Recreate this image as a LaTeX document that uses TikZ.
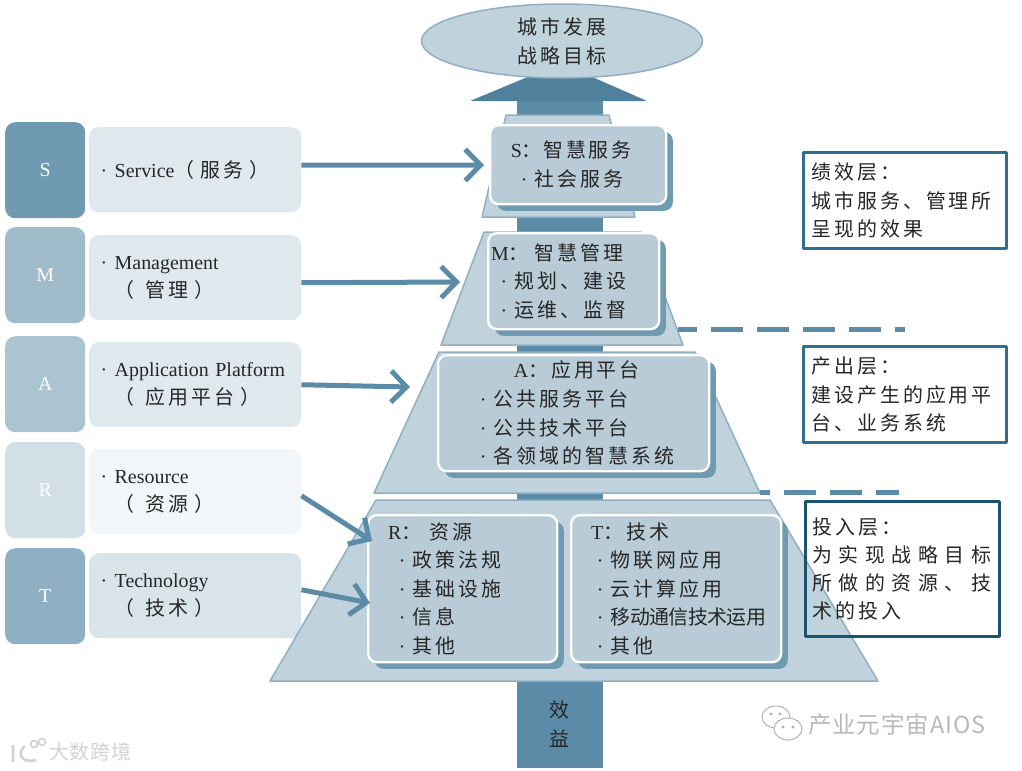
\documentclass[tikz,border=0pt]{standalone}
\usepackage{fontspec}
\setmainfont[LetterSpace=15]{Noto Sans CJK SC}
\newfontfamily\widefont[LetterSpace=33]{Noto Sans CJK SC}
\newfontfamily\markfont[LetterSpace=4]{Noto Sans CJK SC}
\newfontfamily\tightfont[LetterSpace=-3]{Noto Sans CJK SC}
\newfontfamily\latfont{Liberation Serif}
\usepackage{xcolor}
\usetikzlibrary{shapes,arrows.meta,positioning,calc,shadows,shapes.geometric}

\definecolor{columnblue}{HTML}{5B8BA6}
\definecolor{headblue}{HTML}{4F809C}
\definecolor{layerblue}{HTML}{C0D2DC}
\definecolor{edgeblue}{HTML}{8FB0C2}
\definecolor{panelblue}{HTML}{B8CBD6}
\definecolor{shadeblue}{HTML}{6F9AB2}
\definecolor{frameblue}{HTML}{2F6F8F}
\definecolor{framedark}{HTML}{1B5470}
\definecolor{textdark}{HTML}{262626}

\newcommand{\lat}[1]{{\latfont\fontsize{17}{24}\selectfont #1}}
\newcommand{\itm}{\makebox[4.2mm][l]{\lat{·}}}

\tikzset{
    layer/.style={draw=edgeblue, fill=layerblue, line width=.45mm, line join=round},
    panel/.style={anchor=north west, rounded corners=2.6mm, draw=white, line width=.7mm, fill=panelblue,
        general shadow={fill=shadeblue, shadow xshift=2mm, shadow yshift=-2mm},
        align=left, inner ysep=0pt, text=textdark, font=\fontsize{17}{24.4}\selectfont},
    tag/.style={anchor=north west, rounded corners=3mm, fill=#1, text=white, minimum width=24mm, minimum height=28.8mm, inner sep=0pt},
    labelbox/.style={anchor=north west, rounded corners=3mm, fill=#1, minimum height=25.5mm, text width=56.7mm, inner xsep=3.45mm, inner ysep=0pt,
        align=left, text=textdark, font=\fontsize{17}{24}\selectfont,
        path picture={\fill[#1] (path picture bounding box.north west) rectangle ([xshift=5mm]path picture bounding box.south west);}},
    note/.style={anchor=north west, draw=#1, line width=.9mm, line join=round, minimum width=60.9mm, text width=56.1mm, inner xsep=2.1mm, inner ysep=0pt,
        align=left, text=textdark, font=\fontsize{17}{24.2}\selectfont},
    flow/.style={line width=1.5mm, draw=columnblue, -{Straight Barb[length=4.6mm, width=9.4mm, line width=1.5mm]}},
    divider/.style={line width=1.5mm, draw=columnblue, dash pattern=on 9.6mm off 4.2mm},
}

\begin{document}
\begin{tikzpicture}[x=0.3mm, y=-0.3mm]
    \useasboundingbox (0,0) rectangle (1022,771);

    % Left column
    \node[tag=shadeblue] (stag) at (5,122) {\lat{S}};
    \node[tag=edgeblue!85] (mtag) at (5,227) {\lat{M}};
    \node[tag=edgeblue!75] (atag) at (5,336) {\lat{A}};
    \node[tag=layerblue!70] (rtag) at (5,442) {\lat{R}};
    \node[tag=edgeblue] (ttag) at (5,548) {\lat{T}};

    \node[labelbox={layerblue!50}] (slabel) at (89,127) {\itm\lat{Service}（\hspace{1.8mm}服务\hspace{1.8mm}）};
    \node[labelbox={layerblue!50}] (mlabel) at (89,235) {\itm\lat{Management}\\\hspace*{4.2mm}（\hspace{3.4mm}管理\hspace{1.8mm}）};
    \node[labelbox={layerblue!50}] (alabel) at (89,342) {\itm\lat{Application Platform}\\\hspace*{4.2mm}（\hspace{3.4mm}应用平台\hspace{1.8mm}）};
    \node[labelbox={layerblue!20}] (rlabel) at (89,449) {\itm\lat{Resource}\\\hspace*{4.2mm}（\hspace{3.4mm}资源\hspace{1.8mm}）};
    \node[labelbox={layerblue!60}] (tlabel) at (89,553) {\itm\lat{Technology}\\\hspace*{4.2mm}（\hspace{3.4mm}技术\hspace{1.8mm}）};

    % Benefit column and arrow
    \node[anchor=north, fill=columnblue, minimum width=25.8mm, minimum height=26.4mm, inner sep=0pt, align=center,
        text=textdark, font=\fontsize{17}{24.6}\selectfont] (gain) at (559.5,680) {效\\益};
    \fill[columnblue] (516.5,100) rectangle (602.5,690);
    \fill[headblue, rounded corners=.6mm] (530,76) -- (590,76) -- (647,101) -- (470,101) -- cycle;

    % Pyramid layers
    \draw[layer] (506,115) -- (609,115) -- (635,217) -- (482,217) -- cycle;
    \draw[layer] (484,232) -- (641,232) -- (683,345) -- (441,345) -- cycle;
    \draw[layer] (439,352) -- (695,352) -- (760,493) -- (374,493) -- cycle;
    \draw[layer] (376,500) -- (770,500) -- (878,681) -- (270,681) -- cycle;

    \node[draw=edgeblue, fill=layerblue, line width=.45mm, ellipse, minimum width=84.3mm, minimum height=22.2mm, inner sep=0pt, align=center,
        text=textdark, font=\fontsize{17}{24.6}\selectfont] (goal) at (562,41) {城市发展\\战略目标};

    % Panels
    \node[panel, minimum width=52.8mm, text width=46.8mm, inner xsep=3mm, minimum height=23.7mm] (sbox) at (489,124)
        {\hspace*{3.2mm}\lat{S}：\hspace{.4mm}智慧服务\\\hspace*{6.2mm}\itm 社会服务};
    \node[panel, minimum width=51.3mm, text width=49.5mm, inner xsep=.9mm, minimum height=28.8mm] (mbox) at (487,232)
        {\lat{M}：\hspace{1.8mm}智慧管理\\\hspace*{2.8mm}\itm 规划、建设\\\hspace*{2.8mm}\itm 运维、监督};
    \node[panel, minimum width=81.3mm, text width=72.3mm, inner xsep=4.5mm, minimum height=34.8mm] (abox) at (437,354)
        {\hspace*{18.2mm}\lat{A}：应用平台\\\hspace*{8mm}\itm 公共服务平台\\\hspace*{8mm}\itm 公共技术平台\\\hspace*{8mm}\itm 各领域的智慧系统};
    \node[panel, minimum width=56.7mm, text width=50.7mm, inner xsep=3mm, minimum height=44.1mm] (rbox) at (367,514)
        {\hspace*{3mm}\lat{R}：\hspace{2.4mm}资源\\\hspace*{6.2mm}\itm 政策法规\\\hspace*{6.2mm}\itm 基础设施\\\hspace*{6.2mm}\itm 信息\\\hspace*{6.2mm}\itm 其他};
    \node[panel, minimum width=63mm, text width=57mm, inner xsep=3mm, minimum height=44.1mm] (tbox) at (570,514)
        {\hspace*{3mm}\lat{T}：技术\\\hspace*{4.7mm}\itm 物联网应用\\\hspace*{4.7mm}\itm 云计算应用\\\hspace*{4.7mm}\itm {\tightfont 移动通信技术运用}\\\hspace*{4.7mm}\itm 其他};

    % Arrows
    \coordinate (stip) at (484,165);
    \coordinate (mtip) at (460,282);
    \coordinate (atip) at (410,387);
    \coordinate (rtip) at (372,541);
    \coordinate (ttip) at (370,603);
    \draw[flow] ([yshift=1.35mm]slabel.east) -- (stip);
    \draw[flow] ([yshift=-1.5mm]mlabel.east) -- (mtip);
    \draw[flow] (alabel.east) -- (atip);
    \draw[flow] ([yshift=-1.2mm]rlabel.east) -- (rtip);
    \draw[flow] ([yshift=1.8mm]tlabel.east) -- (ttip);

    % Dividers
    \coordinate (upperstart) at (678,329);
    \coordinate (upperend) at (905,329);
    \coordinate (lowerstart) at (760,492);
    \coordinate (lowerend) at (899,492);
    \draw[divider, dash phase=3.9mm] (upperstart) -- (upperend);
    \draw[divider, dash phase=6.6mm] (lowerstart) -- (lowerend);

    % Right notes
    \node[note=frameblue, minimum height=28.8mm] (perform) at (802,151) {绩效层：\\城市服务、管理所\\呈现的效果};
    \node[note=frameblue, minimum height=28.8mm] (output) at (802,345) {产出层：\\建设产生的应用平\\台、业务系统};
    \node[note=framedark, minimum width=58.2mm, text width=54mm, inner xsep=1.8mm, minimum height=40.5mm, font=\fontsize{17}{23.8}\selectfont] (input) at (804,500)
        {投入层：\\{\widefont 为实现战略目标}\\{\widefont 所做的资源、技}\\术的投入};

    % Watermarks
    \node[anchor=west, inner sep=0pt, text=gray!55, font=\markfont\fontsize{20}{24}\selectfont] (markright) at (808,725) {产业元宇宙AIOS};
    \draw[gray!60, line width=.3mm] (776,717) ellipse [x radius=14, y radius=11];
    \draw[gray!60, line width=.3mm, fill=white] (788,729) ellipse [x radius=14, y radius=11];
    \fill[gray!60] (783,727) circle (1.6) (793,727) circle (1.6) (771,714) circle (1.6) (780,714) circle (1.6);
    \node[anchor=west, inner sep=0pt, text=gray!35, font=\markfont\fontsize{17}{20}\selectfont] (markleft) at (49,752) {大数跨境};
    \draw[gray!35, line width=.8mm] (13,745) -- (13,762) (25,746) .. controls (17,752) and (20,764) .. (36,760);
    \draw[gray!35, line width=.5mm] (34,744) circle (3.5) (42,742) circle (3.5);
\end{tikzpicture}
\end{document}
